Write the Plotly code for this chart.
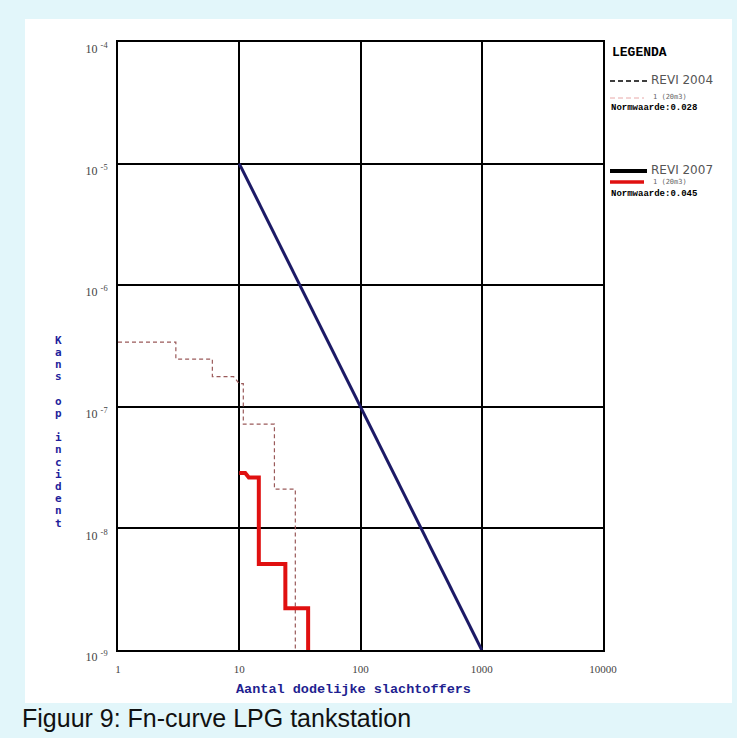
import plotly.graph_objects as go

# ---------------- data ----------------
norm_n = [10, 1000]
norm_f = [1e-5, 1e-9]

revi2004_n = [1, 3, 3, 6, 6, 9, 10, 10.8, 10.8, 19.5, 19.5, 29, 29]
revi2004_f = [3.4e-7, 3.4e-7, 2.47e-7, 2.47e-7, 1.77e-7, 1.77e-7, 1.55e-7, 1.55e-7,
              7.2e-8, 7.2e-8, 2.1e-8, 2.1e-8, 1e-10]

revi2007_n = [10, 11.2, 12, 14.5, 14.5, 24, 24, 37, 37]
revi2007_f = [2.85e-8, 2.85e-8, 2.62e-8, 2.62e-8, 5.1e-9, 5.1e-9, 2.2e-9, 2.2e-9, 1e-10]

x_tickvals = [1, 10, 100, 1000, 10000]
x_ticktext = ["1", "10", "100", "1000", "10000"]
y_tickvals = [1e-4, 1e-5, 1e-6, 1e-7, 1e-8, 1e-9]
y_ticktext = ["10 <sup>-4</sup>", "10 <sup>-5</sup>", "10 <sup>-6</sup>",
              "10 <sup>-7</sup>", "10 <sup>-8</sup>", "10 <sup>-9</sup>"]

x_title = "Aantal dodelijke slachtoffers"
y_title = "Kans op incident"
caption = "Figuur 9: Fn-curve LPG tankstation"

# ---------------- layout geometry ----------------
W, H = 737, 738
L, R, T, B = 118, 603, 42, 650


def xp(px):
    return (px - L) / (R - L)


def yp(py):
    return (B - py) / (B - T)


fig = go.Figure()

fig.add_trace(go.Scatter(x=revi2004_n, y=revi2004_f, mode="lines",
                         line=dict(color="#9a5a5a", width=1.2, dash="4px,3px"),
                         showlegend=False, hoverinfo="skip"))
fig.add_trace(go.Scatter(x=revi2007_n, y=revi2007_f, mode="lines",
                         line=dict(color="#e01010", width=4),
                         showlegend=False, hoverinfo="skip"))
fig.add_trace(go.Scatter(x=norm_n, y=norm_f, mode="lines",
                         line=dict(color="#1c1a66", width=3),
                         showlegend=False, hoverinfo="skip"))

shapes = []
# white sheet behind the chart
shapes.append(dict(type="rect", xref="paper", yref="paper",
                   x0=xp(25), x1=xp(732), y0=yp(703), y1=yp(19),
                   fillcolor="white", line=dict(width=0), layer="below"))

# legend sample lines
shapes.append(dict(type="line", xref="paper", yref="paper",
                   x0=xp(610), x1=xp(647), y0=yp(81), y1=yp(81),
                   line=dict(color="black", width=1.5, dash="5px,3px")))
shapes.append(dict(type="line", xref="paper", yref="paper",
                   x0=xp(610), x1=xp(644), y0=yp(98), y1=yp(98),
                   line=dict(color="#e8a8a8", width=1, dash="5px,3px")))
shapes.append(dict(type="line", xref="paper", yref="paper",
                   x0=xp(610), x1=xp(647), y0=yp(171), y1=yp(171),
                   line=dict(color="black", width=4)))
shapes.append(dict(type="line", xref="paper", yref="paper",
                   x0=xp(610), x1=xp(644), y0=yp(182), y1=yp(182),
                   line=dict(color="#e01010", width=3.5)))

ann = []


def text(px, py, s, size, color="black", family="Liberation Mono", anchor="left"):
    ann.append(dict(x=xp(px), y=yp(py), xref="paper", yref="paper", text=s,
                    showarrow=False, xanchor=anchor, yanchor="middle",
                    font=dict(size=size, color=color, family=family)))


text(610, 53, "<b>LEGENDA</b>", 13)
text(649, 80, "REVI 2004", 12, "#555", "DejaVu Sans")
text(651, 97, "1 (20m3)", 7, "#666", "DejaVu Sans Mono")
text(609, 108, "<b>Normwaarde:0.028</b>", 9)
text(649, 170, "REVI 2007", 12, "#555", "DejaVu Sans")
text(651, 182, "1 (20m3)", 7, "#666", "DejaVu Sans Mono")
text(609, 194, "<b>Normwaarde:0.045</b>", 9)

# axis titles
text(353, 689, "<b>" + x_title + "</b>", 13.5, "#1f1f90", "Liberation Mono", "center")
for i, ch in enumerate(y_title):
    if ch != " ":
        text(58, 340 + i * 12.2, "<b>" + ch + "</b>", 11, "#1f1f9c", "DejaVu Sans Mono", "center")

# caption
text(20, 718, caption, 25, "#111", "Liberation Sans")

fig.update_layout(
    width=W, height=H,
    margin=dict(l=L, r=W - R, t=T, b=H - B),
    paper_bgcolor="#e2f6fa",
    plot_bgcolor="white",
    shapes=shapes,
    annotations=ann,
    showlegend=False,
)

axis_common = dict(type="log", showgrid=True, gridcolor="black", gridwidth=1.5,
                   showline=True, linecolor="black", linewidth=2, mirror=True,
                   ticks="", zeroline=False)

fig.update_xaxes(range=[0, 4], tickvals=x_tickvals, ticktext=x_ticktext,
                 tickfont=dict(size=11, color="#444", family="Liberation Serif"),
                 ticklabelstandoff=8, **axis_common)
fig.update_yaxes(range=[-9, -4], tickvals=y_tickvals, ticktext=y_ticktext,
                 tickfont=dict(size=12, color="#444", family="Liberation Serif"),
                 ticklabelstandoff=6, ticklabelshift=7, **axis_common)

fig.write_html("out.html", config={"displayModeBar": False},
               post_script="document.body.style.margin='0';document.body.style.overflow='hidden';")
